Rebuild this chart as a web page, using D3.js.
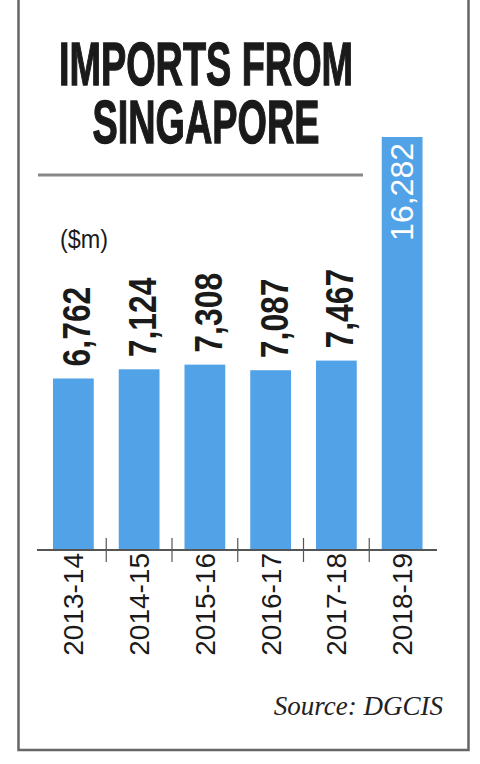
<!DOCTYPE html>
<html>
<head>
<meta charset="utf-8">
<script src="https://cdn.jsdelivr.net/npm/d3@7"></script>
<style>
  body { margin: 0; background: #fff; }
  svg { display: block; }
</style>
</head>
<body>
<div id="chart"></div>
<script>
// data
var years = ["2013-14", "2014-15", "2015-16", "2016-17", "2017-18", "2018-19"];
var imports = [6762, 7124, 7308, 7087, 7467, 16282];
var titleLines = ["IMPORTS FROM", "SINGAPORE"];

var width = 480, height = 764;
var baseY = 550;
var fill = "#52a2e8";
var fmt = d3.format(",");

var data = years.map(function(d, i) { return {key: d, value: imports[i]}; });

var svg = d3.select("#chart")
  .append("svg")
  .attr("width", width)
  .attr("height", height);

// frame
svg.append("path")
  .attr("d", "M18.5,0 V750 H468.5 V0")
  .attr("fill", "none")
  .attr("stroke", "#666")
  .attr("stroke-width", 2.5);

// title, one text squeezed to look condensed
var title = svg.append("text")
  .attr("transform", "translate(206,0)scale(0.61,1)")
  .attr("text-anchor", "middle")
  .style("font-family", "'Liberation Sans', Arial, sans-serif")
  .style("font-weight", "bold")
  .style("font-size", "62px")
  .attr("fill", "#1a1a1a")
  .attr("stroke", "#1a1a1a")
  .attr("stroke-width", 1.4);

title.selectAll("tspan")
  .data(titleLines)
  .enter()
  .append("tspan")
  .attr("x", 0)
  .attr("y", function(d, i) { return i === 0 ? 85 : 143; })
  .text(function(d) { return d; });

// divider under title
svg.append("line")
  .attr("x1", 38).attr("x2", 363)
  .attr("y1", 175).attr("y2", 175)
  .attr("stroke", "#888")
  .attr("stroke-width", 3);

// unit
svg.append("text")
  .attr("transform", "translate(60,248)scale(0.9,1)")
  .style("font-family", "'Liberation Sans', Arial, sans-serif")
  .style("font-size", "26px")
  .attr("fill", "#1a1a1a")
  .text("($m)");

var x = d3.scaleBand()
  .domain(years)
  .range([40.5, 435])
  .paddingInner(0.38)
  .paddingOuter(0.19);

var y = d3.scaleLinear()
  .domain([0, d3.max(imports)])
  .range([baseY, 137]);

// bars
svg.selectAll(".bar")
  .data(data)
  .enter()
  .append("rect")
  .attr("class", "bar")
  .attr("x", function(d) { return x(d.key); })
  .attr("width", x.bandwidth())
  .attr("y", function(d) { return y(d.value); })
  .attr("height", function(d) { return baseY - y(d.value); })
  .attr("fill", fill);

// baseline + ticks between bars
svg.append("line")
  .attr("x1", 37).attr("x2", 437)
  .attr("y1", baseY).attr("y2", baseY)
  .attr("stroke", "#555")
  .attr("stroke-width", 2);

var gap = x.step() * x.paddingInner() / 2;
svg.selectAll(".tick")
  .data(years.slice(1))
  .enter()
  .append("line")
  .attr("class", "tick")
  .attr("x1", function(d) { return x(d) - gap; })
  .attr("x2", function(d) { return x(d) - gap; })
  .attr("y1", 538).attr("y2", 562)
  .attr("stroke", "#555")
  .attr("stroke-width", 1.2);

// category labels
svg.selectAll(".cat")
  .data(years)
  .enter()
  .append("text")
  .attr("class", "cat")
  .attr("transform", function(d) {
    return "translate(" + (x(d) + x.bandwidth() / 2 + 10) + "," + 553 + ")rotate(-90)";
  })
  .attr("text-anchor", "end")
  .style("font-family", "'Liberation Sans', Arial, sans-serif")
  .style("font-size", "28px")
  .attr("fill", "#1a1a1a")
  .text(function(d) { return d; });

// value labels
var last = data.length - 1;
svg.selectAll(".val")
  .data(data)
  .enter()
  .append("text")
  .attr("class", "val")
  .attr("transform", function(d, i) {
    var cx = x(d.key) + x.bandwidth() / 2;
    if (i === last) {
      return "translate(" + (cx + 11) + "," + (y(d.value) + 6) + ")rotate(-90)";
    }
    return "translate(" + (cx + 17) + "," + (y(d.value) - 12) + ")rotate(-90)scale(0.84,1)";
  })
  .attr("text-anchor", function(d, i) { return i === last ? "end" : "start"; })
  .style("font-family", "'Liberation Sans', Arial, sans-serif")
  .style("font-weight", function(d, i) { return i === last ? "normal" : "bold"; })
  .style("font-size", function(d, i) { return i === last ? "32px" : "38px"; })
  .attr("fill", function(d, i) { return i === last ? "#fff" : "#1a1a1a"; })
  .text(function(d) { return fmt(d.value); });

// source
svg.append("text")
  .attr("x", 443)
  .attr("y", 715)
  .attr("text-anchor", "end")
  .style("font-family", "'Liberation Serif', 'DejaVu Serif', serif")
  .style("font-style", "italic")
  .style("font-size", "27px")
  .attr("fill", "#222")
  .text("Source: DGCIS");
</script>
</body>
</html>
